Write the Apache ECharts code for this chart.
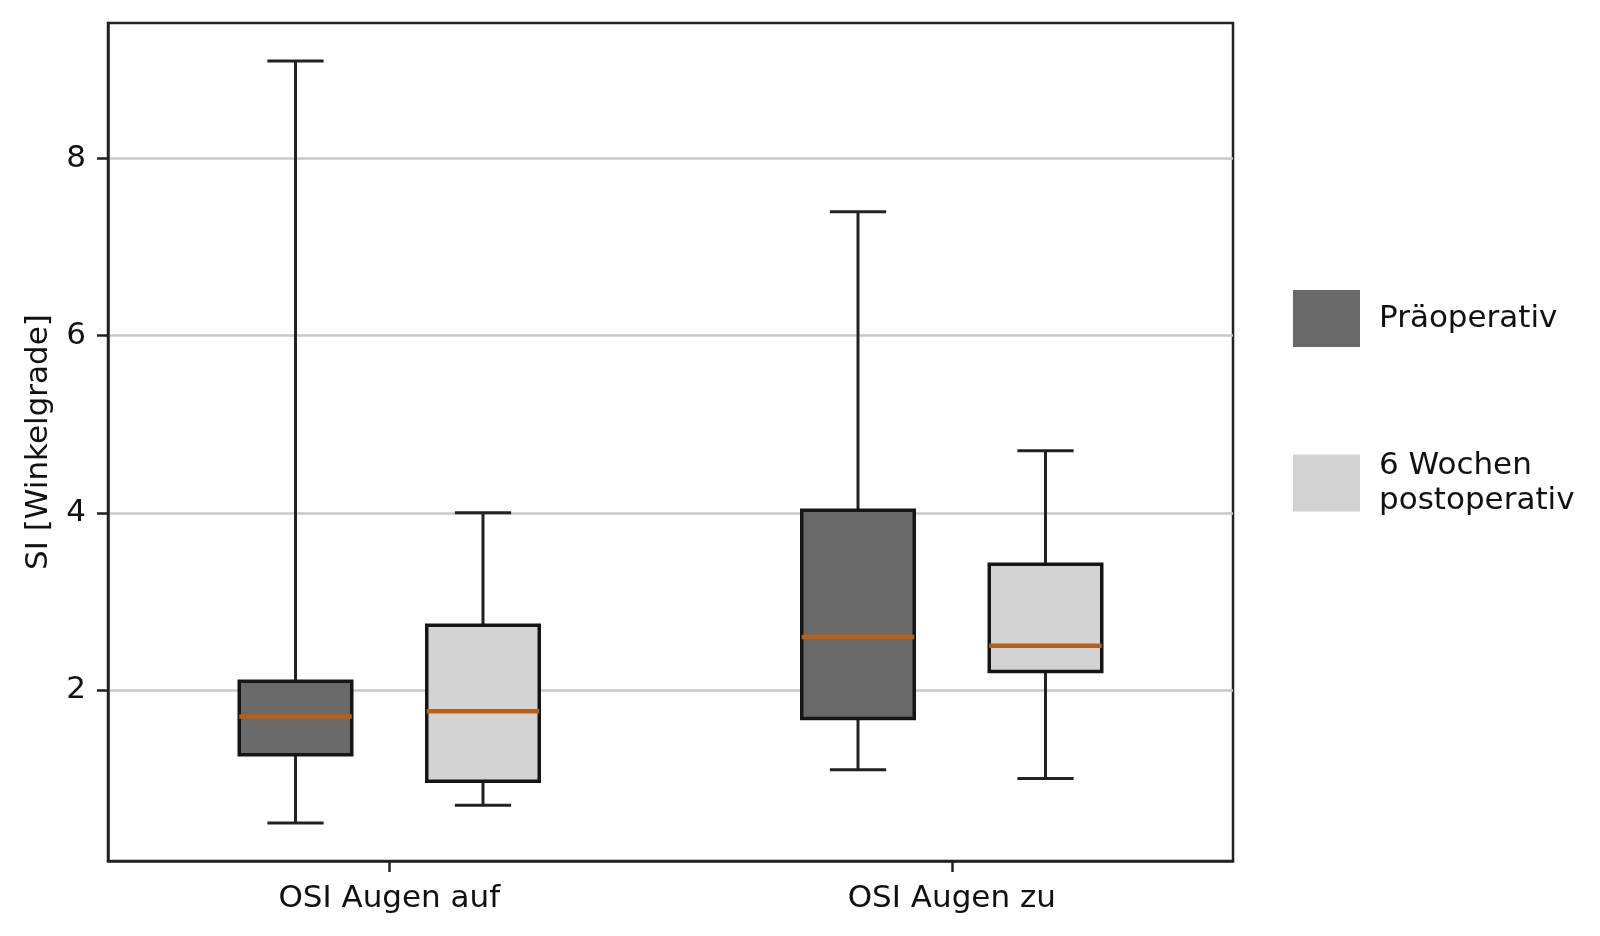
<!DOCTYPE html>
<html>
<head>
<meta charset="utf-8">
<script src="https://cdn.jsdelivr.net/npm/echarts@6/dist/echarts.min.js"></script>
<style>
  html, body { margin: 0; padding: 0; background: #fff; }
  #chart { width: 1600px; height: 936px; }
</style>
</head>
<body>
<div id="chart"></div>
<script>
// box data per category: [min, Q1, median, Q3, max]
var categories = ['OSI Augen auf', 'OSI Augen zu'];
var preOp  = [[0.50, 1.27, 1.70, 2.10, 9.10], [1.10, 1.68, 2.60, 4.03, 7.40]];
var postOp = [[0.70, 0.97, 1.76, 2.73, 4.00], [1.00, 2.21, 2.50, 3.42, 4.70]];
var seriesNames = ['Präoperativ', '6 Wochen\npostoperativ'];
var yTicks = [2, 4, 6, 8];

var FONT = 'DejaVu Sans';
var INK = '#111';

function withIndex(rows) {
    return rows.map(function (r, i) { return [i].concat(r); });
}

// draws one box per category, shifted inside the band
function boxRenderer(shift, fill) {
    return function (params, api) {
        var cat = api.value(0);
        var band = api.size([1, 0])[0];
        var cx = api.coord([cat, 0])[0] + shift * band;
        var w = band * 0.2;
        var cap = w / 2;
        var y = [1, 2, 3, 4, 5].map(function (d) {
            return api.coord([cat, api.value(d)])[1];
        });
        var whisker = { stroke: '#222', lineWidth: 3 };
        return {
            type: 'group',
            children: [
                { type: 'line', shape: { x1: cx, y1: y[0], x2: cx, y2: y[1] }, style: whisker },
                { type: 'line', shape: { x1: cx, y1: y[3], x2: cx, y2: y[4] }, style: whisker },
                { type: 'line', shape: { x1: cx - cap / 2, y1: y[0], x2: cx + cap / 2, y2: y[0] }, style: whisker },
                { type: 'line', shape: { x1: cx - cap / 2, y1: y[4], x2: cx + cap / 2, y2: y[4] }, style: whisker },
                { type: 'rect', shape: { x: cx - w / 2, y: y[3], width: w, height: y[1] - y[3] },
                  style: { fill: fill, stroke: '#151515', lineWidth: 3.5 } },
                { type: 'line', shape: { x1: cx - w / 2, y1: y[2], x2: cx + w / 2, y2: y[2] },
                  style: { stroke: '#b5601c', lineWidth: 4.5 } }
            ]
        };
    };
}

var chart = echarts.init(document.getElementById('chart'));

var option = {
    animation: false,
    backgroundColor: '#fff',
    grid: {
        left: 108, right: 367, top: 23, bottom: 75,
        show: true, borderColor: '#222', borderWidth: 2.5, backgroundColor: 'transparent'
    },
    legend: [
        {
            data: [seriesNames[0]],
            left: 1288, top: 285,
            icon: 'rect', itemWidth: 67, itemHeight: 57,
            selectedMode: false,
            textStyle: { fontFamily: FONT, fontSize: 31, color: INK, padding: [0, 0, 0, 14] }
        },
        {
            data: [seriesNames[1]],
            left: 1288, top: 443,
            icon: 'rect', itemWidth: 67, itemHeight: 57,
            selectedMode: false,
            textStyle: { fontFamily: FONT, fontSize: 31, lineHeight: 35, color: INK, padding: [0, 0, 0, 14] }
        }
    ],
    xAxis: {
        type: 'category',
        data: categories,
        axisLine: { show: true, lineStyle: { color: '#222', width: 2.5 } },
        axisTick: { show: true, alignWithLabel: true, length: 11, lineStyle: { color: '#222', width: 2.5 } },
        axisLabel: { fontFamily: FONT, fontSize: 31, color: INK, margin: 22 },
        splitLine: { show: false }
    },
    yAxis: {
        type: 'value',
        min: 0.07,
        max: 9.53,
        splitNumber: 5,
        name: 'SI [Winkelgrade]',
        nameLocation: 'middle',
        nameRotate: 90,
        nameGap: 54,
        nameTextStyle: { fontFamily: FONT, fontSize: 31, color: INK },
        axisLine: { show: true, lineStyle: { color: '#222', width: 2.5 } },
        axisTick: { show: true, length: 11, customValues: yTicks, lineStyle: { color: '#222', width: 2.5 } },
        axisLabel: { customValues: yTicks, fontFamily: FONT, fontSize: 31, color: INK, margin: 22 },
        splitLine: { show: true, lineStyle: { color: '#c8c8c8', width: 2.5 } }
    },
    series: [
        {
            name: seriesNames[0],
            type: 'custom',
            renderItem: boxRenderer(-1 / 6, '#696969'),
            itemStyle: { color: '#696969' },
            encode: { x: 0, y: [1, 2, 3, 4, 5] },
            data: withIndex(preOp),
            z: 3
        },
        {
            name: seriesNames[1],
            type: 'custom',
            renderItem: boxRenderer(1 / 6, '#d3d3d3'),
            itemStyle: { color: '#d3d3d3' },
            encode: { x: 0, y: [1, 2, 3, 4, 5] },
            data: withIndex(postOp),
            z: 3
        }
    ]
};

chart.setOption(option);
</script>
</body>
</html>
